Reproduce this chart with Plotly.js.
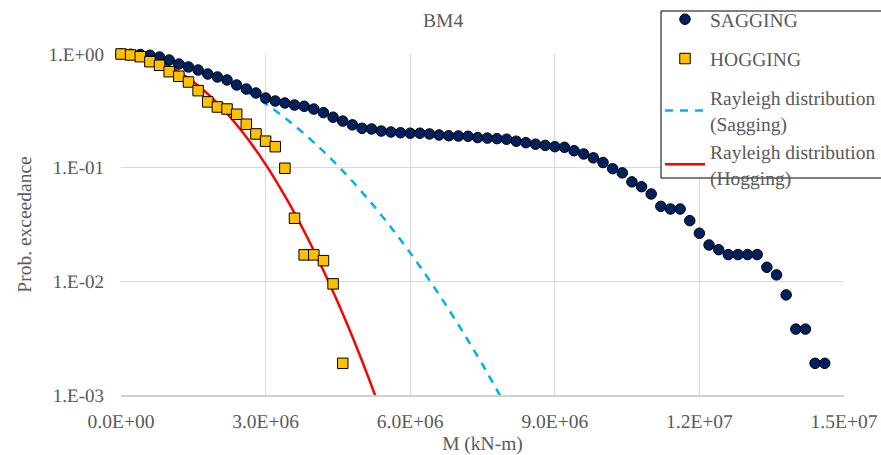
<!DOCTYPE html>
<html>
<head>
<meta charset="utf-8">
<script src="https://cdn.plot.ly/plotly-3.0.1.min.js"></script>
<style>
html,body{margin:0;padding:0;background:#fff;font-family:'Liberation Serif','Times New Roman',serif;}
#chart text {font-family:'Liberation Serif','Times New Roman',serif !important; text-rendering:geometricPrecision;}
</style>
</head>
<body>
<div id="chart" style="width:881px;height:455px"></div>
<script>
// Sagging exceedance points (M in kN-m, probability)
var sagM = [0, 2e5, 4e5, 6e5, 8e5, 1.0e6, 1.2e6, 1.4e6, 1.6e6, 1.8e6,
  2.0e6, 2.2e6, 2.4e6, 2.6e6, 2.8e6, 3.0e6, 3.2e6, 3.4e6, 3.6e6, 3.8e6,
  4.0e6, 4.2e6, 4.4e6, 4.6e6, 4.8e6, 5.0e6, 5.2e6, 5.4e6, 5.6e6, 5.8e6,
  6.0e6, 6.2e6, 6.4e6, 6.6e6, 6.8e6, 7.0e6, 7.2e6, 7.4e6, 7.6e6, 7.8e6,
  8.0e6, 8.2e6, 8.4e6, 8.6e6, 8.8e6, 9.0e6, 9.2e6, 9.4e6, 9.6e6, 9.8e6,
  1.00e7, 1.02e7, 1.04e7, 1.06e7, 1.08e7, 1.10e7, 1.12e7, 1.14e7, 1.16e7, 1.18e7,
  1.20e7, 1.22e7, 1.24e7, 1.26e7, 1.28e7, 1.30e7, 1.32e7, 1.34e7, 1.36e7, 1.38e7,
  1.40e7, 1.42e7, 1.44e7, 1.46e7];
var sagP = [1.0, 0.995, 0.99, 0.975, 0.941, 0.886, 0.817, 0.769, 0.723, 0.667,
  0.628, 0.591, 0.534, 0.492, 0.454, 0.410, 0.386, 0.371, 0.356, 0.347,
  0.328, 0.305, 0.278, 0.257, 0.238, 0.222, 0.219, 0.210, 0.206, 0.203,
  0.201, 0.201, 0.198, 0.194, 0.191, 0.190, 0.189, 0.184, 0.182, 0.180,
  0.178, 0.171, 0.166, 0.161, 0.157, 0.153, 0.151, 0.141, 0.132, 0.122,
  0.111, 0.098, 0.090, 0.075, 0.068, 0.0587, 0.0457, 0.0433, 0.0433, 0.0342,
  0.0265, 0.0209, 0.0190, 0.0172, 0.0172, 0.0172, 0.0172, 0.0133, 0.0114, 0.0076,
  0.0038, 0.0038, 0.0019, 0.0019];

// Hogging exceedance points
var hogM = [0, 2e5, 4e5, 6e5, 8e5, 1.0e6, 1.2e6, 1.4e6, 1.6e6, 1.8e6,
  2.0e6, 2.2e6, 2.4e6, 2.6e6, 2.8e6, 3.0e6, 3.2e6, 3.4e6, 3.6e6, 3.8e6,
  4.0e6, 4.2e6, 4.4e6, 4.6e6];
var hogP = [1.0, 0.98, 0.947, 0.856, 0.796, 0.699, 0.637, 0.567, 0.476, 0.379,
  0.342, 0.328, 0.295, 0.241, 0.198, 0.171, 0.153, 0.0988, 0.0359, 0.0171,
  0.0171, 0.0152, 0.0095, 0.0019];

// Rayleigh fits
var rsM = [0, 5e5, 1.0e6, 1.5e6, 2.0e6, 2.5e6, 3.0e6, 3.5e6, 4.0e6, 4.5e6,
  5.0e6, 5.5e6, 6.0e6, 6.5e6, 7.0e6, 7.5e6, 8.0e6];
var rsP = [1.0, 0.972, 0.894, 0.778, 0.639, 0.497, 0.365, 0.254, 0.167, 0.104,
  0.061, 0.0339, 0.0178, 0.00885, 0.00415, 0.00185, 0.00078];
var rhM = [0, 5e5, 1.0e6, 1.5e6, 2.0e6, 2.5e6, 3.0e6, 3.5e6, 4.0e6, 4.5e6, 5.0e6, 5.5e6];
var rhP = [1.0, 0.94, 0.78, 0.571, 0.370, 0.211, 0.107, 0.0475, 0.0187, 0.0065, 0.0020, 0.00054];

var xTickVals = [0, 3e6, 6e6, 9e6, 1.2e7, 1.5e7];
var xTickText = ['0.0E+00', '3.0E+06', '6.0E+06', '9.0E+06', '1.2E+07', '1.5E+07'];
var yTickVals = [1, 0.1, 0.01, 0.001];
var yTickText = ['1.E+00', '1.E-01', '1.E-02', '1.E-03'];

var traces = [
  {x: rsM, y: rsP, mode: 'lines', name: 'Rayleigh distribution<br>(Sagging)',
   line: {color: '#00B0F0', width: 2.5, dash: '8px,7px', shape: 'spline'},
   legendgroup: 'c', legendrank: 3},
  {x: rhM, y: rhP, mode: 'lines', name: 'Rayleigh distribution<br>(Hogging)',
   line: {color: '#FF0000', width: 2.5, shape: 'spline'},
   legendgroup: 'c', legendrank: 4},
  {x: sagM, y: sagP, mode: 'markers', name: 'SAGGING',
   marker: {symbol: 'circle', size: 10.5, color: '#002060', line: {color: '#000000', width: 1}},
   legendgroup: 'a', legendrank: 1, cliponaxis: false},
  {x: hogM, y: hogP, mode: 'markers', name: 'HOGGING',
   marker: {symbol: 'square', size: 10.5, color: '#FFC000', line: {color: '#000000', width: 1}},
   legendgroup: 'b', legendrank: 2, cliponaxis: false}
];

var layout = {
  width: 881, height: 455,
  margin: {l: 121, r: 37, t: 54, b: 60, autoexpand: false},
  paper_bgcolor: '#ffffff', plot_bgcolor: '#ffffff',
  font: {family: 'Liberation Serif', size: 19, color: '#595959'},
  title: {text: 'BM4', font: {size: 19.5},
          xref: 'container', x: 0.503, y: 0.956, yanchor: 'middle'},
  xaxis: {
    range: [0, 1.5e7], tickvals: xTickVals, ticktext: xTickText,
    showgrid: true, gridcolor: '#d9d9d9', gridwidth: 1,
    showline: true, linecolor: '#d0d0d0', linewidth: 1.5, zeroline: false,
    ticks: '', ticklabelstandoff: 8,
    tickfont: {size: 19.5},
    title: {text: 'M (kN-m)', font: {size: 19.5}}
  },
  yaxis: {
    type: 'log', range: [-3, 0], tickvals: yTickVals, ticktext: yTickText,
    showgrid: true, gridcolor: '#d9d9d9', gridwidth: 1,
    showline: false, zeroline: false, ticks: '', ticklabelstandoff: 16,
    tickfont: {size: 19},
    title: {text: 'Prob. exceedance', font: {size: 19.5}, standoff: 11}
  },
  shapes: [
    {type: 'rect', xref: 'paper', yref: 'paper', layer: 'above',
     x0: (661 - 121) / 723, x1: (884 - 121) / 723,
     y0: (395 - 178) / 341, y1: (395 - 11) / 341,
     fillcolor: '#ffffff', line: {color: '#000000', width: 1}}
  ],
  showlegend: true,
  legend: {
    x: (660 - 121) / 723, y: (395 - 0) / 341, xanchor: 'left', yanchor: 'top',
    bgcolor: 'rgba(0,0,0,0)', borderwidth: 0,
    traceorder: 'grouped', tracegroupgap: 11, itemwidth: 40,
    font: {size: 19.5}
  }
};

Plotly.newPlot('chart', traces, layout, {staticPlot: true});
</script>
</body>
</html>
